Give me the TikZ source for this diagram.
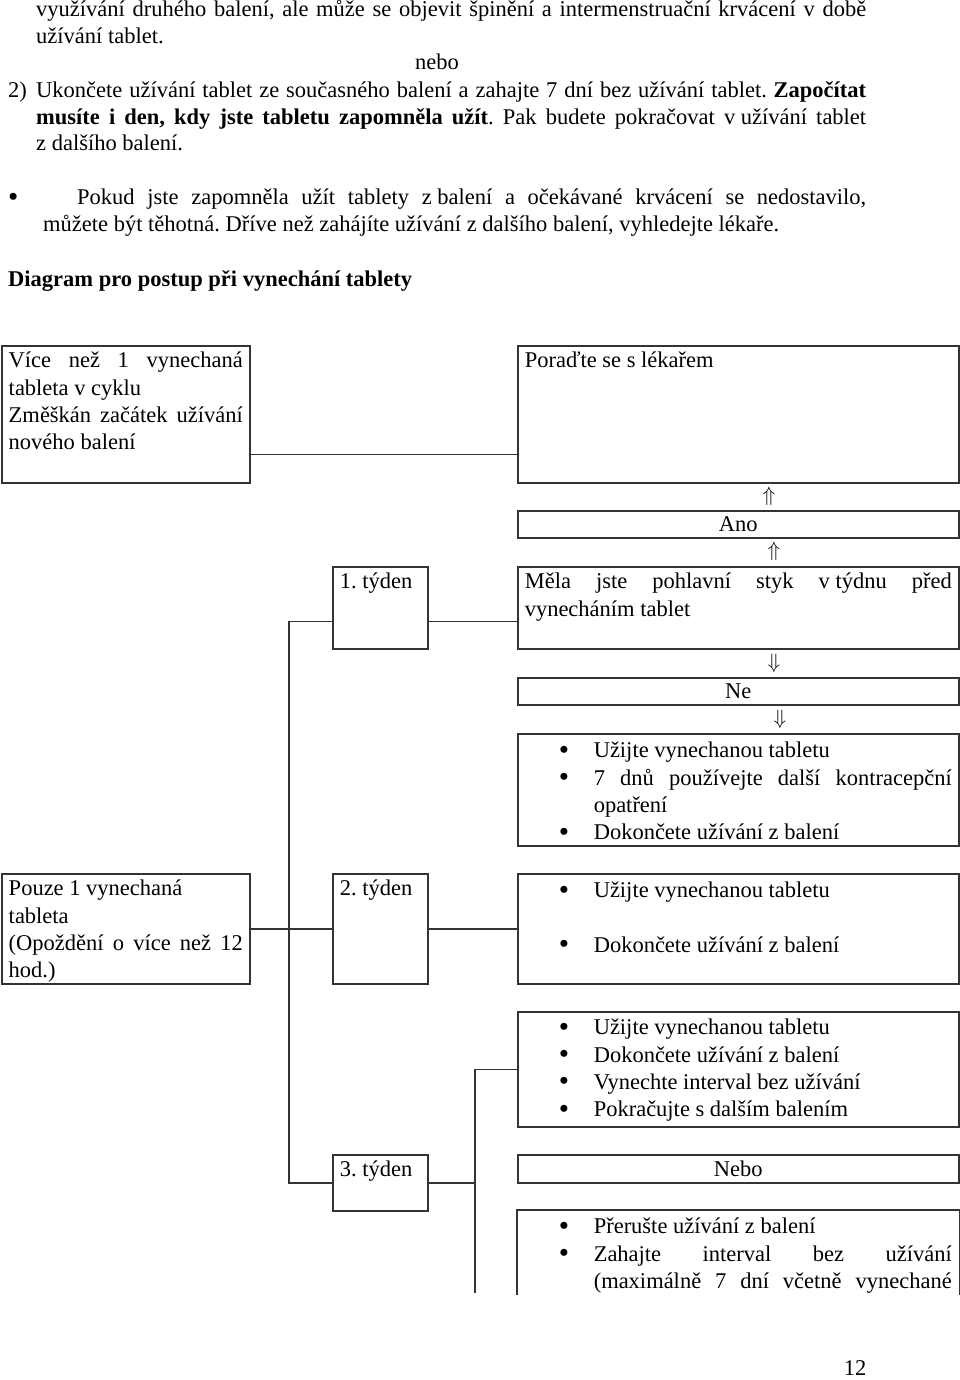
\documentclass[tikz,border=0pt]{standalone}
\usepackage{fontspec}
\setmainfont{Liberation Serif}

\newcommand{\celltext}[3]{\parbox[t][#2][t]{#1}{#3}}
\newcommand{\fl}{\rule{0pt}{22pt}}
\newcommand{\bulletmark}{\raisebox{-1.5pt}{\scalebox{1.3}{\textbullet}}}
\newcommand{\bitem}[1]{\par\hangindent=69pt\hangafter=1\noindent\hspace*{34pt}\makebox[35pt][l]{\bulletmark}#1}

\begin{document}
\frenchspacing
\hyphenpenalty=10000
\exhyphenpenalty=10000
\begin{tikzpicture}[x=1pt,y=-1pt,
  every node/.style={font=\fontsize{22.5}{27.3}\selectfont},
  cell/.style={draw=black!80, line width=1.5pt, anchor=north west, inner xsep=7pt, inner ysep=0pt},
  tag/.style={draw=black!80, line width=1.5pt, anchor=north west, inner sep=0pt, minimum width=441pt, minimum height=27pt},
  txt/.style={inner sep=0pt, anchor=base west, font=\fontsize{22.5}{26.3}\selectfont},
  arr/.style={inner sep=0pt, font=\fontsize{22.5}{22.5}\selectfont},
  link/.style={draw=black!80, line width=1.5pt}]
\useasboundingbox (0,0) rectangle (960,1380);

% text above the diagram
\node[txt] (p1) at (36,17) {\parbox[t]{830pt}{využívání druhého balení, ale může se objevit špinění a intermenstruační krvácení v době\linebreak užívání tablet.}};
\node[txt, anchor=base] (nebo) at (437,70) {nebo};
\node[txt] (p2) at (8,98) {\parbox[t]{858pt}{\hangindent=28pt\hangafter=1 \makebox[28pt][l]{2)}Ukončete užívání tablet ze současného balení a zahajte 7 dní bez užívání tablet. \textbf{Započítat}\linebreak \textbf{musíte i den, kdy jste tabletu zapomněla užít}. Pak budete pokračovat \mbox{v užívání} tablet\linebreak z dalšího balení.}};
\node[txt] (p3) at (8,205) {\parbox[t]{858pt}{\hangindent=35pt\hangafter=1 \makebox[69pt][l]{\bulletmark}Pokud jste zapomněla užít tablety \mbox{z balení} a očekávané krvácení se nedostavilo,\linebreak můžete být těhotná. Dříve než zahájíte užívání z dalšího balení, vyhledejte lékaře.}};
\node[txt] (title) at (8,286) {\textbf{Diagram pro postup při vynechání tablety}};

% boxes
\node[cell] (more) at (1,345) {\celltext{234pt}{137pt}{\fl Více než 1 vynechaná tableta v cyklu\par Změškán začátek užívání nového balení}};
\node[cell] (doctor) at (517,345) {\celltext{427pt}{137pt}{\fl Poraďte se s lékařem}};
\node[tag] (yes) at (517,510) {Ano};
\node[cell] (sex) at (517,566) {\celltext{427pt}{82pt}{\fl Měla jste pohlavní styk \mbox{v týdnu} před vynecháním tablet}};
\node[cell] (wk1) at (332,566) {\celltext{81pt}{82pt}{\fl 1. týden}};
\node[tag] (no) at (517,677) {Ne};
\node[cell] (act1) at (517,733) {\celltext{427pt}{112pt}{\bitem{\rule{0pt}{24pt}Užijte vynechanou tabletu}\bitem{7 dnů používejte další kontracepční opatření}\bitem{Dokončete užívání z balení}}};
\node[cell] (one) at (1,873) {\celltext{234pt}{110pt}{\fl Pouze 1 vynechaná\\ tableta\\ (Opoždění o více než 12 hod.)}};
\node[cell] (wk2) at (332,873) {\celltext{81pt}{110pt}{\fl 2. týden}};
\node[cell] (act2) at (517,873) {\celltext{427pt}{110pt}{\bitem{\rule{0pt}{24pt}Užijte vynechanou tabletu}\par\null\bitem{Dokončete užívání z balení}}};
\node[cell] (act3) at (517,1011) {\celltext{427pt}{115pt}{\bitem{\rule{0pt}{23pt}Užijte vynechanou tabletu}\bitem{Dokončete užívání z balení}\bitem{Vynechte interval bez užívání}\bitem{Pokračujte s dalším balením}}};
\node[cell] (wk3) at (332,1154) {\celltext{81pt}{56pt}{\fl 3. týden}};
\node[tag, minimum height=28pt] (or) at (517,1154) {Nebo};
\node[cell, draw=none] (act4) at (517,1210) {\celltext{427pt}{83pt}{\bitem{\rule{0pt}{23pt}Přerušte užívání z balení}\bitem{\parfillskip=0pt Zahajte interval bez užívání \mbox{(maximálně} 7 dní včetně vynechané}}};

% arrows
\node[arr] (up1) at (769,496) {$\Uparrow$};
\node[arr] (up2) at (774,551) {$\Uparrow$};
\node[arr] (down1) at (774,663) {$\Downarrow$};
\node[arr] (down2) at (780,719) {$\Downarrow$};

% lines
\draw[link] ([yshift=29pt]more.south east) -- ([yshift=29pt]doctor.south west);
\draw[link] ([yshift=28pt]wk1.south east) -- ([yshift=28pt]sex.south west);
\draw[link] ([yshift=28pt]wk1.south west) -- ++(-43pt,0) |- (wk3.west);
\draw[link] (one.east) -- (wk2.west);
\draw[link] (wk2.east) -- (act2.west);
\coordinate (fork) at (475,1293);
\draw[link] (act3.west) -| (fork);
\draw[link] (wk3.east) -- (wk3.east -| fork);
\draw[link] (act4.south west) -- (act4.north west) -- (act4.north east) -- (act4.south east);

\node[txt, anchor=base] (page) at (855,1375) {12};
\end{tikzpicture}
\end{document}
